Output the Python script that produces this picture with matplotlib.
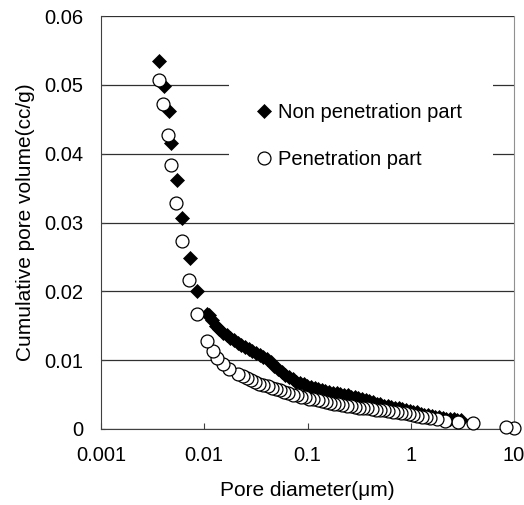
import numpy as np
import matplotlib
matplotlib.use('Agg')
import matplotlib.pyplot as plt

plt.rcParams['font.family'] = ['Liberation Sans', 'DejaVu Sans']

#%% data
# Non penetration part (diamonds)
non_pen_d = [0.00362, 0.00407, 0.00456, 0.00480, 0.00545, 0.00614, 0.00728, 0.00857, 0.0107,
             0.0110, 0.0119, 0.0129, 0.0140, 0.0152, 0.0165, 0.0179, 0.0194, 0.0211, 0.0229,
             0.0248, 0.0269, 0.0292, 0.0317, 0.0344, 0.0373, 0.0405, 0.0439, 0.0477, 0.0517,
             0.0561, 0.0609, 0.0661, 0.0717, 0.0778, 0.0844, 0.0916, 0.0994, 0.108, 0.117,
             0.127, 0.138, 0.149, 0.162, 0.176, 0.191, 0.207, 0.225, 0.244, 0.264,
             0.287, 0.311, 0.338, 0.366, 0.398, 0.431, 0.468, 0.508, 0.551, 0.598,
             0.649, 0.704, 0.764, 0.829, 0.899, 0.976, 1.06, 1.15, 1.25, 1.35,
             1.47, 1.59, 1.73, 1.88, 2.04, 2.21, 2.40, 2.60, 2.82, 3.06]
non_pen_v = [0.0535, 0.0499, 0.0462, 0.0415, 0.0362, 0.0306, 0.0248, 0.0200, 0.0167,
             0.0165, 0.0158, 0.0150, 0.0146, 0.0140, 0.0136, 0.0132, 0.0129, 0.0125, 0.0122,
             0.0119, 0.0116, 0.0113, 0.0110, 0.0107, 0.0104, 0.0102, 0.0097, 0.0091, 0.0087,
             0.0083, 0.0079, 0.0075, 0.0072, 0.0069, 0.0067, 0.0065, 0.0063, 0.0061, 0.0059,
             0.0058, 0.0057, 0.0055, 0.0054, 0.0053, 0.0052, 0.0051, 0.0050, 0.0049, 0.0047,
             0.0046, 0.0045, 0.0043, 0.0042, 0.0040, 0.0039, 0.0037, 0.0036, 0.0034, 0.0033,
             0.0032, 0.0031, 0.0030, 0.0029, 0.0027, 0.0026, 0.0025, 0.0024, 0.0022, 0.0021,
             0.0020, 0.0019, 0.0018, 0.0017, 0.0016, 0.0015, 0.0015, 0.0014, 0.0013, 0.0013]

# Penetration part (open circles)
pen_d = [0.00362, 0.00398, 0.00449, 0.00473, 0.00529, 0.00609, 0.00718, 0.00850, 0.0106,
         0.0122, 0.0134, 0.0151, 0.0175, 0.0214, 0.0236, 0.0258, 0.0283, 0.0311, 0.0341,
         0.0374, 0.0410, 0.0450, 0.0494, 0.0542, 0.0595, 0.0652, 0.0716, 0.0785, 0.0862,
         0.0946, 0.104, 0.114, 0.125, 0.137, 0.151, 0.165, 0.181, 0.199, 0.218,
         0.240, 0.263, 0.288, 0.316, 0.347, 0.381, 0.418, 0.459, 0.504, 0.553,
         0.607, 0.666, 0.731, 0.802, 0.880, 0.966, 1.06, 1.16, 1.28, 1.40,
         1.54, 1.78, 2.15, 2.89, 4.04, 8.36, 10.07]
pen_v = [0.0507, 0.0472, 0.0427, 0.0383, 0.0329, 0.0273, 0.0216, 0.0167, 0.0128,
         0.0114, 0.0103, 0.0095, 0.0087, 0.0080, 0.0077, 0.0074, 0.0071, 0.0069, 0.0066,
         0.0064, 0.0062, 0.0060, 0.0058, 0.0056, 0.0054, 0.0052, 0.0050, 0.0049, 0.0047,
         0.0046, 0.0044, 0.0043, 0.0042, 0.0040, 0.0039, 0.0038, 0.0037, 0.0036, 0.0035,
         0.0034, 0.0033, 0.0032, 0.0031, 0.0031, 0.0030, 0.0029, 0.0028, 0.0028, 0.0027,
         0.0026, 0.0025, 0.0024, 0.0023, 0.0023, 0.0022, 0.0020, 0.0019, 0.0018, 0.0017,
         0.00155, 0.0014, 0.0012, 0.00106, 0.0009, 0.00034, 0.0001]

x_ticks = [0.001, 0.01, 0.1, 1, 10]
x_labels = ['0.001', '0.01', '0.1', '1', '10']
y_ticks = [0, 0.01, 0.02, 0.03, 0.04, 0.05, 0.06]
y_labels = ['0', '0.01', '0.02', '0.03', '0.04', '0.05', '0.06']

#%% plotting
fig = plt.figure(figsize=(5.24, 5.05), dpi=100)
ax = fig.add_axes([0.1927, 0.1505, 0.7883, 0.8178])

# measured from large to small diameter, so reverse the order
ax.plot(non_pen_d[::-1], non_pen_v[::-1], 'D', color='black', ms=7, mew=0.5,
        label='Non penetration part', clip_on=False, zorder=3)
ax.plot(pen_d[::-1], pen_v[::-1], 'o', mfc='white', mec='black', ms=9.3, mew=0.9,
        label='Penetration part', clip_on=False, zorder=4)

ax.set_xscale('log')
ax.set_xlim(0.001, 10)
ax.set_ylim(0, 0.06)
ax.set_xticks(x_ticks)
ax.set_xticklabels(x_labels)
ax.set_yticks(y_ticks)
ax.set_yticklabels(y_labels)
ax.minorticks_off()
ax.tick_params(axis='both', direction='in', labelsize=14.5, color='#404040')
ax.tick_params(axis='x', length=4, pad=12)
ax.tick_params(axis='y', length=3, pad=13)

ax.grid(axis='y', color='#303030', lw=0.9)
ax.set_axisbelow(True)
ax.spines['top'].set_visible(False)
ax.spines['right'].set_color('#909090')
ax.spines['left'].set_color('#404040')
ax.spines['bottom'].set_color('#404040')

ax.set_xlabel('Pore diameter(μm)', fontsize=15, labelpad=12)
ax.set_ylabel('Cumulative pore volume(cc/g)', fontsize=15, labelpad=6)

leg = ax.legend(loc='upper left', bbox_to_anchor=(0.31, 0.862), fontsize=14.5,
                frameon=True, fancybox=False, facecolor='white', edgecolor='none',
                framealpha=1, borderpad=1.5, handlelength=0.5, handletextpad=0.45,
                labelspacing=1.4, borderaxespad=0)

fig.savefig('out.png', dpi=100)
